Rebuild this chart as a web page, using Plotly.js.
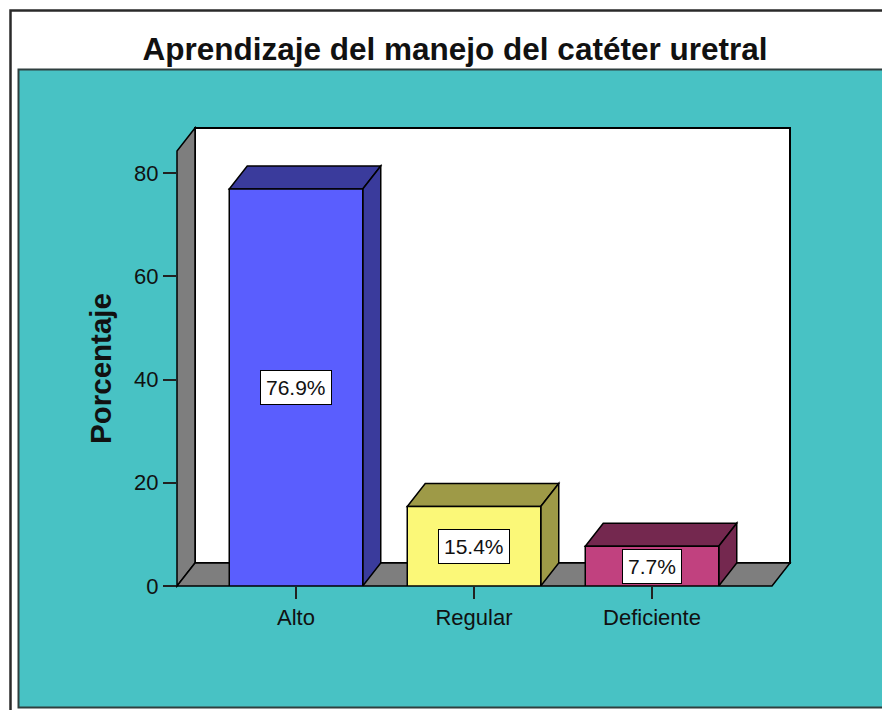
<!DOCTYPE html>
<html><head><meta charset="utf-8">
<script src="https://cdn.plot.ly/plotly-3.0.1.min.js"></script>
<style>html,body{margin:0;padding:0;background:#fff}</style>
</head><body><div id="chart" style="width:882px;height:710px"></div>
<script>
// ---- data ----
const categories = ['Alto', 'Regular', 'Deficiente'];
const percentages = [76.9, 15.4, 7.7];
const valueLabels = ['76.9%', '15.4%', '7.7%'];
const yTickValues = [0, 20, 40, 60, 80];
const frontColors = ['#5A5EFE', '#FBF878', '#C1417F'];
const sideColors = ['#3A3B9C', '#9E9A47', '#74284F'];

// ---- layout geometry (pixels) ----
const W = 882, H = 710;
const depthX = 18, depthY = 23;
// front plane of the 3D box = plot area
const L = 177, R = 772, T = 151, B = 586;
const pxPerUnit = 5.1625;
const yMax = (B - T) / pxPerUnit;
const catPx = 178, firstCatPx = 296;
const xRange = [(L - firstCatPx) / catPx, (R - firstCatPx) / catPx];
const barWidth = 0.75;
const DX = depthX / catPx, DY = depthY / pxPerUnit;
const px = v => (v - L) / (R - L);
const py = v => (B - v) / (B - T);
const teal = '#48C2C4', gray = '#7E7E7E', ink = '#111111';
const font = 'Liberation Sans, Arial, sans-serif';

const xIdx = categories.map((c, i) => i);

const shapes = [
  // outer frame
  {type:'rect', xref:'paper', yref:'paper', layer:'below', x0:px(10.5), y0:py(10.5), x1:px(900), y1:py(740),
   fillcolor:'#ffffff', line:{color:'#2a2a2a', width:2.5}},
  // teal panel
  {type:'rect', xref:'paper', yref:'paper', layer:'below', x0:px(18.5), y0:py(69.5), x1:px(900), y1:py(707.5),
   fillcolor:teal, line:{color:'#2f3f3f', width:2}},
  // back wall
  {type:'rect', xref:'paper', yref:'paper', layer:'below', x0:px(L + depthX), y0:py(B - depthY), x1:px(R + depthX), y1:py(T - depthY),
   fillcolor:'#ffffff', line:{color:'#000', width:2}},
  // left wall
  {type:'path', xref:'paper', yref:'paper', layer:'below',
   path:`M ${px(L)} ${py(B)} L ${px(L)} ${py(T)} L ${px(L + depthX)} ${py(T - depthY)} L ${px(L + depthX)} ${py(B - depthY)} Z`,
   fillcolor:gray, line:{color:'#000', width:1.5}},
  // floor
  {type:'path', xref:'paper', yref:'paper', layer:'below',
   path:`M ${px(L)} ${py(B)} L ${px(R)} ${py(B)} L ${px(R + depthX)} ${py(B - depthY)} L ${px(L + depthX)} ${py(B - depthY)} Z`,
   fillcolor:gray, line:{color:'#000', width:1.5}}
];

// 3D faces of the bars from data
percentages.forEach((v, i) => {
  const xl = xIdx[i] - barWidth / 2, xr = xIdx[i] + barWidth / 2;
  shapes.push({type:'path', xref:'x', yref:'y', layer:'below',
    path:`M ${xl} ${v} L ${xr} ${v} L ${xr + DX} ${v + DY} L ${xl + DX} ${v + DY} Z`,
    fillcolor:sideColors[i], line:{color:'#000', width:1.5}});
  shapes.push({type:'path', xref:'x', yref:'y', layer:'below',
    path:`M ${xr} ${v} L ${xr + DX} ${v + DY} L ${xr + DX} ${DY} L ${xr} 0 Z`,
    fillcolor:sideColors[i], line:{color:'#000', width:1.5}});
});

const annotations = percentages.map((v, i) => ({
  x: xIdx[i], y: v / 2, xref:'x', yref:'y', text: valueLabels[i], showarrow:false,
  bgcolor:'#ffffff', bordercolor:'#000', borderwidth:1, borderpad:5,
  font:{family:font, size:21, color:ink}
}));

const data = [{
  type:'bar', x:xIdx, y:percentages, width:barWidth,
  marker:{color:frontColors, line:{color:'#000', width:1.5}},
  hoverinfo:'none', textposition:'none'
}];

const layout = {
  width:W, height:H,
  margin:{l:L, r:W - R, t:T, b:H - B, pad:0},
  paper_bgcolor:'#ffffff', plot_bgcolor:'rgba(0,0,0,0)',
  font:{family:font, color:ink},
  showlegend:false,
  title:{text:'Aprendizaje del manejo del catéter uretral',
    font:{family:font, size:31.5, weight:'bold', color:ink},
    xref:'container', yref:'container', x:455 / W, xanchor:'center', y:1 - 49 / H, yanchor:'middle'},
  xaxis:{type:'linear', range:xRange, tickvals:xIdx, ticktext:categories,
    ticks:'outside', ticklen:12, tickwidth:2, tickcolor:'#222',
    showgrid:false, zeroline:false, showline:false, fixedrange:true,
    tickfont:{family:font, size:22, color:ink}},
  yaxis:{range:[0, yMax], tickvals:yTickValues, ticks:'outside', ticklen:13, tickwidth:2, tickcolor:'#222',
    showgrid:false, zeroline:false, showline:false, fixedrange:true,
    tickfont:{family:font, size:22, color:ink},
    title:{text:'Porcentaje', standoff:13, font:{family:font, size:29.5, weight:'bold', color:ink}}},
  shapes:shapes,
  annotations:annotations
};

Plotly.newPlot('chart', data, layout, {displayModeBar:false, staticPlot:true});
</script>
</body></html>
